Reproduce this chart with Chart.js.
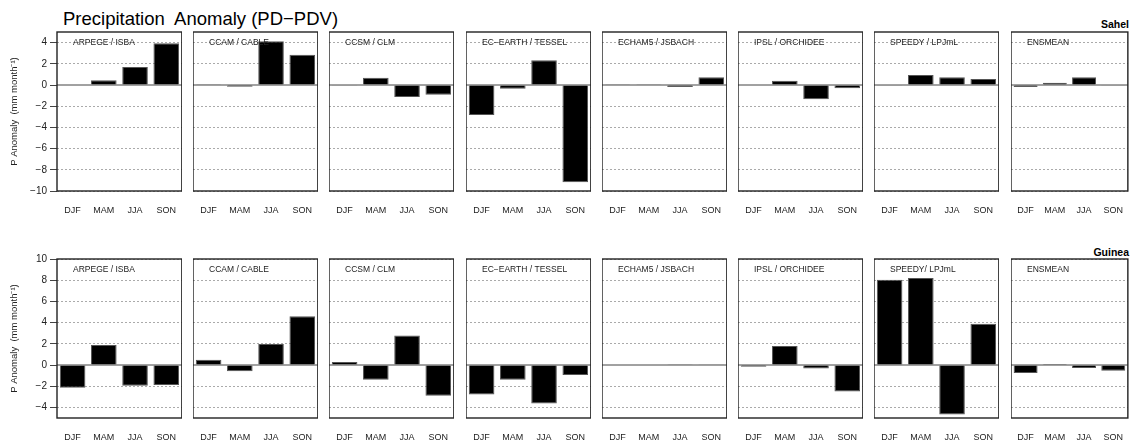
<!DOCTYPE html>
<html>
<head>
<meta charset="utf-8">
<script src="https://cdn.jsdelivr.net/npm/chart.js@4.4.1/dist/chart.umd.min.js"></script>
<style>
  body { margin: 0; background: #fff; width: 1135px; height: 446px; position: relative; overflow: hidden;
         font-family: "Liberation Sans", Arial, sans-serif; }
  canvas { position: absolute; }
  .txt { position: absolute; white-space: pre; line-height: 1; color: #000; }
</style>
</head>
<body>
<div class="txt" style="left:63px;top:10px;font-size:18.5px">Precipitation  Anomaly (PD−PDV)</div>
<div class="txt" style="right:6px;top:19px;font-size:10.5px;font-weight:bold">Sahel</div>
<div class="txt" style="right:6px;top:247px;font-size:10.5px;font-weight:bold">Guinea</div>
<script>
// seasons on the x axis of every panel
const seasons = ['DJF', 'MAM', 'JJA', 'SON'];

// panel titles (the Guinea row writes SPEEDY slightly differently)
const sahelTitles = ['ARPEGE / ISBA', 'CCAM / CABLE', 'CCSM / CLM', 'EC\u2212EARTH / TESSEL',
  'ECHAM5 / JSBACH', 'IPSL / ORCHIDEE', 'SPEEDY / LPJmL', 'ENSMEAN'];
const guineaTitles = ['ARPEGE / ISBA', 'CCAM / CABLE', 'CCSM / CLM', 'EC\u2212EARTH / TESSEL',
  'ECHAM5 / JSBACH', 'IPSL / ORCHIDEE', 'SPEEDY/ LPJmL', 'ENSMEAN'];

// precipitation anomaly, mm/month, one row per model: DJF, MAM, JJA, SON
const sahelValues = [
  [-0.05, 0.45, 1.70, 3.95],
  [0.02, -0.16, 4.12, 2.86],
  [-0.03, 0.69, -1.13, -0.91],
  [-2.83, -0.35, 2.33, -9.18],
  [0.08, 0.02, -0.19, 0.72],
  [0.00, 0.41, -1.35, -0.31],
  [-0.03, 0.94, 0.72, 0.57],
  [-0.19, 0.22, 0.72, -0.06],
];
const guineaValues = [
  [-2.15, 1.89, -1.96, -1.89],
  [0.50, -0.60, 1.99, 4.60],
  [0.28, -1.39, 2.78, -2.90],
  [-2.78, -1.39, -3.63, -0.95],
  [0.00, 0.00, 0.02, 0.03],
  [-0.16, 1.80, -0.32, -2.49],
  [8.04, 8.20, -4.67, 3.88],
  [-0.76, 0.10, -0.28, -0.54],
];

// y axes
const sahelRange = [-10, 5];
const sahelTicks = [-10, -8, -6, -4, -2, 0, 2, 4];
const guineaRange = [-5, 10];
const guineaTicks = [-4, -2, 0, 2, 4, 6, 8, 10];

const yTitle = 'P Anomaly  (mm month\u207B\u00B9)';

// layout of the panel boxes
const panelLefts = [57, 193, 329, 466, 602, 738, 874, 1011];
const panelWidths = [125, 125, 125, 125, 125, 125, 125, 118];
const boxH = 159;
const padTop = 10;
const labelH = 28;

Chart.defaults.font.family = '"Liberation Sans", Arial, sans-serif';
Chart.defaults.color = '#222';

const panelPlugin = {
  id: 'panel',
  beforeDatasetsDraw(chart) {
    const { ctx, chartArea: a, scales: { y } } = chart;
    const y0 = y.getPixelForValue(0);
    ctx.save();
    ctx.strokeStyle = '#444';
    ctx.lineWidth = 1;
    ctx.beginPath();
    ctx.moveTo(a.left, y0);
    ctx.lineTo(a.right, y0);
    ctx.stroke();
    ctx.restore();
  },
  afterDatasetsDraw(chart, args, opts) {
    const { ctx, chartArea: a } = chart;
    ctx.save();
    ctx.strokeStyle = '#222';
    ctx.lineWidth = 1.4;
    ctx.strokeRect(a.left, a.top, a.right - a.left, a.bottom - a.top);
    ctx.font = '8.5px "Liberation Sans", Arial, sans-serif';
    ctx.fillStyle = '#222';
    ctx.textBaseline = 'middle';
    ctx.fillText(opts.title, a.left + 16, a.top + 10.5);
    ctx.restore();
  },
};

function addPanel(rowTop, col, title, values, range, tickValues) {
  const first = col === 0;
  const left = first ? 0 : panelLefts[col];
  const width = first ? panelLefts[0] + panelWidths[0] : panelWidths[col];
  const height = padTop + boxH + labelH;

  const canvas = document.createElement('canvas');
  canvas.width = width;
  canvas.height = height;
  canvas.style.left = left + 'px';
  canvas.style.top = (rowTop - padTop) + 'px';
  canvas.style.width = width + 'px';
  canvas.style.height = height + 'px';
  document.body.appendChild(canvas);

  new Chart(canvas, {
    type: 'bar',
    data: {
      labels: seasons,
      datasets: [{
        data: values,
        backgroundColor: '#000',
        borderColor: '#555',
        borderWidth: 1,
        barPercentage: 0.82,
        categoryPercentage: 1,
      }],
    },
    options: {
      responsive: false,
      animation: false,
      layout: { padding: { top: padTop, left: 0, right: 0, bottom: 0 } },
      plugins: {
        legend: { display: false },
        tooltip: { enabled: false },
        panel: { title },
      },
      scales: {
        x: {
          offset: true,
          grid: { display: false },
          border: { display: false },
          ticks: { font: { size: 9 }, color: '#222', padding: 6, maxRotation: 0 },
          afterFit: scale => { scale.height = labelH; },
        },
        y: {
          min: range[0],
          max: range[1],
          afterBuildTicks: scale => { scale.ticks = tickValues.map(v => ({ value: v })); },
          afterFit: scale => { scale.width = first ? panelLefts[0] : 0; },
          grid: {
            color: c => (c.tick && c.tick.value === 0 ? 'rgba(0,0,0,0)' : '#aaa'),
            lineWidth: 1,
            drawTicks: first,
            tickLength: 7,
            tickColor: '#444',
            tickBorderDash: [],
          },
          border: { display: false, dash: [2, 2] },
          ticks: {
            display: first,
            font: { size: 10 },
            color: '#222',
            padding: 3,
            callback: v => String(v).replace('-', '\u2212'),
          },
          title: {
            display: first,
            text: yTitle,
            font: { size: 9.5 },
            color: '#222',
            padding: { top: 9, bottom: 0 },
          },
        },
      },
    },
    plugins: [panelPlugin],
  });
}

for (let i = 0; i < 8; i++) {
  addPanel(32, i, sahelTitles[i], sahelValues[i], sahelRange, sahelTicks);
  addPanel(259, i, guineaTitles[i], guineaValues[i], guineaRange, guineaTicks);
}
</script>
</body>
</html>
